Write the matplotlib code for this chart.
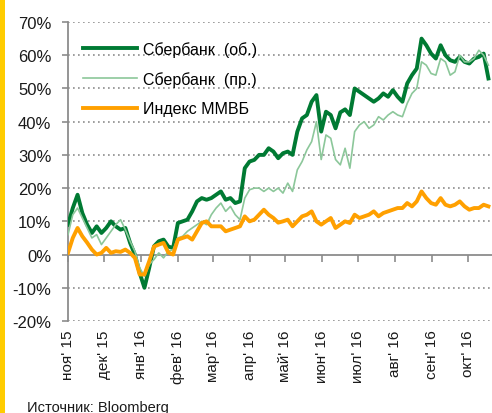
import matplotlib
matplotlib.use("Agg")
import matplotlib.pyplot as plt
from matplotlib.patches import Rectangle
import pandas as pd

plt.rcParams['font.family'] = ['Liberation Sans', 'DejaVu Sans']

# data: % change since 1 Nov 2015, sampled every 4 days
dates = pd.date_range('2015-11-01', periods=89, freq='4D')

sber_ob = [9, 14, 18, 12.5, 9, 6.5, 8.5, 6.5, 8, 10, 8.5, 7.5, 8, 3.5, 0, -5.5, -10, -4, 2.5, 4,
           4.5, 2.4, 2, 9.5, 10, 10.5, 13, 16, 17, 16.5, 17, 18, 19, 16.5, 17, 15.5, 16, 26, 28, 28.5,
           30, 30, 32, 31, 29, 30.5, 31, 30, 37, 41, 42, 46, 48, 37, 43, 42, 38, 42.8, 43.7, 42,
           50, 49, 48, 47, 46, 47, 48.5, 47.5, 49.5, 47.5, 46, 51.5, 54, 56, 65, 63, 60.5, 59, 63, 60,
           58.5, 58, 59.5, 58, 57.5, 59, 59.5, 60.5, 53]

sber_pr = [6, 12, 14, 11, 8, 5, 6, 3, 5, 7, 9, 10.5, 7.5, 4, 1, -4, -6.5, -3, -1.5, 0.5,
           -1, 1, 1.5, 5, 5.5, 7, 8, 9, 10, 9, 12, 14, 15.5, 13, 14.5, 12, 10.5, 17, 19.5, 20,
           20, 19, 20, 19, 20, 18.5, 21.5, 19, 25.5, 28, 31.5, 34, 40, 28.6, 36, 35, 28.6, 27, 32, 26,
           37, 39, 40, 38, 39, 41.5, 40.5, 42, 43, 42, 41.5, 45.5, 48.5, 50, 58, 57, 54.5, 54, 59, 58,
           54, 55, 60, 58, 58, 59, 61.5, 60, 57]

micex = [0.5, 5, 8, 5.5, 3.6, 1.5, 0, 0.5, 2, 0.5, 1, 0.8, 1.5, 0.5, -1, -6, -6, -2, 2.4, 3,
         3.5, 0.6, 0, 4.5, 5, 5.5, 4.5, 7, 9.5, 10, 8.5, 8.5, 8.5, 7, 7.5, 8, 8.5, 11.5, 10, 10.5,
         12, 13.5, 12, 11, 9.6, 10, 10.5, 8.5, 10, 11.5, 12, 13, 10, 9, 10, 11, 8, 9, 10, 9.5,
         12, 11, 11.5, 12, 13, 11.5, 12.5, 13, 13.5, 14, 14, 15.5, 14.5, 16, 19, 17, 15.5, 15, 17, 15,
         14.5, 15, 16, 14.5, 13.5, 14, 14, 15, 14.5]

series_names = ['Сбербанк  (об.)', 'Сбербанк  (пр.)', 'Индекс ММВБ']
month_ticks = pd.date_range('2015-11-01', periods=12, freq='MS')
month_labels = ["ноя' 15", "дек' 15", "янв' 16", "фев' 16", "мар' 16", "апр' 16",
                "май' 16", "июн' 16", "июл' 16", "авг' 16", "сен' 16", "окт' 16"]
y_ticks = [-20, -10, 0, 10, 20, 30, 40, 50, 60, 70]

fig = plt.figure(figsize=(4.92, 4.14), dpi=100)
ax = fig.add_axes([68 / 492, 1 - 322 / 414, 1 - 68 / 492, (322 - 23) / 414])

# yellow stripe on left edge
fig.patches.append(Rectangle((0, 0), 5 / 492, 1, transform=fig.transFigure,
                             facecolor='#FFCC00', edgecolor='none'))

for yv in y_ticks:
    if yv != 0:
        ax.axhline(yv, color='#8c8c8c', lw=1.2, ls=(0, (1, 2)), zorder=1)

ax.plot(dates, sber_ob, color='#007A33', lw=2.8, label=series_names[0], zorder=3)
ax.plot(dates, sber_pr, color='#8CC79A', lw=1.2, label=series_names[1], zorder=4)
ax.plot(dates, micex, color='#FFA000', lw=2.8, label=series_names[2], zorder=5)

ax.set_ylim(-20, 70)
ax.set_xlim(pd.Timestamp('2015-11-01'), pd.Timestamp('2016-10-21'))
ax.set_yticks(y_ticks)
ax.set_yticklabels([f'{v}%' for v in y_ticks])

for s in ['top', 'right']:
    ax.spines[s].set_visible(False)
ax.spines['left'].set_color('#8c8c8c')
ax.spines['left'].set_linewidth(1.3)
ax.spines['bottom'].set_position(('data', 0))
ax.spines['bottom'].set_color('#8c8c8c')
ax.spines['bottom'].set_linewidth(1.3)
ax.tick_params(axis='y', colors='#8c8c8c', length=4, width=1.2, labelsize=12,
               labelcolor='#1a1a1a', pad=8)
ax.set_xticks(month_ticks)
ax.tick_params(axis='x', colors='#8c8c8c', length=5, width=1.2, direction='out',
               labelbottom=False)

sec = ax.secondary_xaxis('bottom')
sec.set_xticks(month_ticks)
sec.set_xticklabels(month_labels, rotation=90, fontsize=11, color='#1a1a1a')
sec.tick_params(axis='x', length=0, pad=6)
sec.spines['bottom'].set_visible(False)

leg = ax.legend(loc='upper left', bbox_to_anchor=(0.035, 0.937), frameon=False,
                borderpad=0, borderaxespad=0, fontsize=11.5, handlelength=3.4,
                handletextpad=0.35, labelspacing=0.9)

fig.text(27 / 492, 1 - 408 / 414, 'Источник: Bloomberg', fontsize=10.5, color='#1a1a1a',
         va='center', ha='left')

fig.savefig('out.png', dpi=100)
